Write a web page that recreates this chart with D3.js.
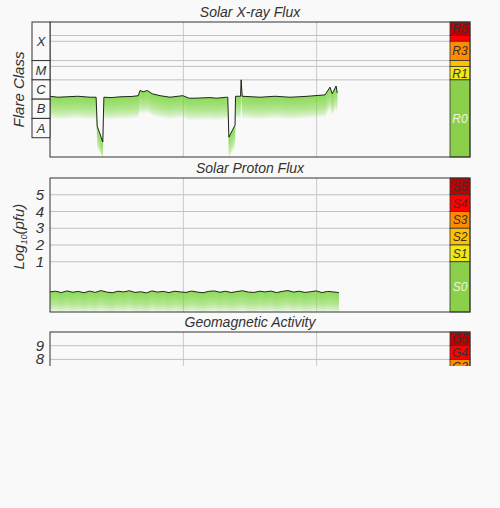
<!DOCTYPE html>
<html><head><meta charset="utf-8">
<script src="https://cdn.jsdelivr.net/npm/d3@7"></script>
<style>
body{margin:0;background:#f9f9f9;font-family:"Liberation Sans",Arial,sans-serif;}
text{font-style:italic;}
</style></head>
<body><div id="chart"></div>
<script>
// hours since start, log10 of X-ray flux (W/m2)
var xrayHours = [0,1.4,2.9,5,7.2,8.3,8.5,9.5,9.7,11,12.6,14.8,15.9,16.2,16.8,17.5,18.4,19.8,21.6,23.9,25,26.1,28.8,30,31.8,32,32.2,33.3,33.4,34.3,34.4,34.6,37.8,40.5,43.2,45.9,47.7,49.5,50.4,50.8,51.5,51.7];
var xrayLog = [-5.85,-5.9,-5.88,-5.85,-5.9,-5.9,-7.4,-8.22,-5.9,-5.92,-5.88,-5.86,-5.82,-5.55,-5.62,-5.55,-5.72,-5.82,-5.9,-5.82,-5.95,-5.95,-5.92,-5.95,-5.9,-5.9,-7.97,-7.35,-5.85,-5.85,-5.0,-5.85,-5.9,-5.85,-5.9,-5.86,-5.82,-5.78,-5.38,-5.72,-5.32,-5.68];

// log10 of >10 MeV proton flux, roughly every hour
var protonLog = [-0.8,-0.76,-0.84,-0.74,-0.82,-0.77,-0.85,-0.75,-0.83,-0.72,-0.81,-0.85,-0.76,-0.8,-0.73,-0.83,-0.79,-0.86,-0.74,-0.81,-0.77,-0.84,-0.76,-0.8,-0.83,-0.75,-0.81,-0.85,-0.77,-0.74,-0.82,-0.76,-0.84,-0.78,-0.73,-0.81,-0.83,-0.76,-0.8,-0.75,-0.84,-0.77,-0.72,-0.81,-0.76,-0.83,-0.79,-0.74,-0.84,-0.77,-0.8,-0.84];

var flareClasses = ["X","M","C","B","A"];
var flareEdges = [-2,-4,-5,-6,-7,-8];
var rScale = ["R5","R4","R3","R2","R1","R0"];
var rEdges = [-2,Math.log10(2e-3),-3,-4,Math.log10(5e-5),-5,-9];
var sScale = ["S5","S4","S3","S2","S1","S0"];
var sEdges = [6,5,4,3,2,1,-2];
var gScale = ["G5","G4","G3"];
var gEdges = [10,9,8,7];
var protonTicks = [1,2,3,4,5];
var kpTicks = [8,9];
var scaleColors = ["#c00000","#ff0000","#ff8c00","#ffc000","#f2e818","#8ccf4a"];

var svg = d3.select("#chart").append("svg").attr("width",500).attr("height",366);
var left = 50, right = 450, boxW = 20;
var x = d3.scaleLinear().domain([0,72]).range([left,right]);

function panel(top, bottom, domain, title) {
  var y = d3.scaleLinear().domain(domain).range([bottom, top]);
  svg.append("text").attr("x",250).attr("y",top-5).attr("text-anchor","middle")
    .style("font-size","14px").attr("fill","#333").text(title);
  svg.append("rect").attr("x",left).attr("y",top).attr("width",right-left).attr("height",bottom-top)
    .attr("fill","#f9f9f9");
  svg.append("g").selectAll("line").data([24,48]).enter().append("line")
    .attr("x1",d=>x(d)).attr("x2",d=>x(d)).attr("y1",top).attr("y2",bottom)
    .attr("stroke","#c8c8c8");
  return y;
}
function hlines(y, vals) {
  svg.append("g").selectAll("line").data(vals).enter().append("line")
    .attr("x1",left).attr("x2",right).attr("y1",d=>y(d)).attr("y2",d=>y(d))
    .attr("stroke","#c0c0c0");
}
function scaleBoxes(y, names, edges) {
  var g = svg.append("g");
  names.forEach(function(n,i){
    var y0 = y(edges[i]), y1 = y(edges[i+1]);
    g.append("rect").attr("x",right).attr("y",y0).attr("width",boxW).attr("height",y1-y0)
      .attr("fill",scaleColors[i]).attr("stroke","#333").attr("stroke-width",0.8);
    if (y1-y0 > 10) g.append("text").attr("x",right+boxW/2).attr("y",(y0+y1)/2+4.5)
      .attr("text-anchor","middle").style("font-size","12px")
      .attr("fill", n.slice(1)=="0" ? "#eef6e0" : "#333").text(n);
  });
}
function series(y, pts, step) {
  var g = svg.append("g");
  var line = d3.line().x(d=>x(d[0])).y(d=>y(d[1]));
  for (var k=1;k<=12;k++) {
    var h = k*step;
    g.append("path").datum(pts)
      .attr("d", d3.area().x(d=>x(d[0])).y0(d=>Math.min(y(d[1])+h, y.range()[0])).y1(d=>y(d[1])))
      .attr("fill","#7fd63a").attr("opacity",0.13);
  }
  g.append("path").datum(pts).attr("d",line).attr("fill","none").attr("stroke","#111").attr("stroke-width",0.9);
}
function frame(top,bottom){
  svg.append("rect").attr("x",left).attr("y",top).attr("width",right+boxW-left).attr("height",bottom-top)
    .attr("fill","none").attr("stroke","#333");
}

// X-ray
var y1 = panel(22,157,[-9,-2],"Solar X-ray Flux");
hlines(y1, rEdges.slice(1,6));
series(y1, xrayHours.map((h,i)=>[h,xrayLog[i]]), 1.8);
scaleBoxes(y1, rScale, rEdges);
frame(22,157);
var cls = svg.append("g");
flareClasses.forEach(function(c,i){
  var a = y1(flareEdges[i]), b = y1(flareEdges[i+1]);
  cls.append("rect").attr("x",32).attr("y",a).attr("width",18).attr("height",b-a).attr("fill","#f9f9f9").attr("stroke","#333");
  cls.append("text").attr("x",41).attr("y",(a+b)/2+4.5).attr("text-anchor","middle").style("font-size","13px").attr("fill","#333").text(c);
});
svg.append("text").attr("transform","translate(24,"+y1(-5.5)+") rotate(-90)").attr("text-anchor","middle")
  .style("font-size","15px").attr("fill","#333").text("Flare Class");

// Protons
var y2 = panel(178,312,[-2,6],"Solar Proton Flux");
hlines(y2, protonTicks);
series(y2, protonLog.map((v,i)=>[i*52/(protonLog.length-1),v]), 1.7);
scaleBoxes(y2, sScale, sEdges);
frame(178,312);
svg.append("g").selectAll("text").data(protonTicks).enter().append("text")
  .attr("x",44).attr("y",d=>y2(d)+5).attr("text-anchor","end").style("font-size","15px").attr("fill","#333").text(d=>d);
var lab = svg.append("text").attr("transform","translate(24,"+y2(2.5)+") rotate(-90)").attr("text-anchor","middle")
  .style("font-size","15px").attr("fill","#333");
lab.append("tspan").text("Log");
lab.append("tspan").attr("dy",3).style("font-size","9px").text("10");
lab.append("tspan").attr("dy",-3).text("(pfu)");

// Geomagnetic
var y3 = panel(332,469,[0,10],"Geomagnetic Activity");
hlines(y3, kpTicks.concat([7]));
scaleBoxes(y3, gScale, gEdges);
frame(332,469);
svg.append("g").selectAll("text").data(kpTicks).enter().append("text")
  .attr("x",44).attr("y",d=>y3(d)+5).attr("text-anchor","end").style("font-size","15px").attr("fill","#333").text(d=>d);
</script></body></html>
